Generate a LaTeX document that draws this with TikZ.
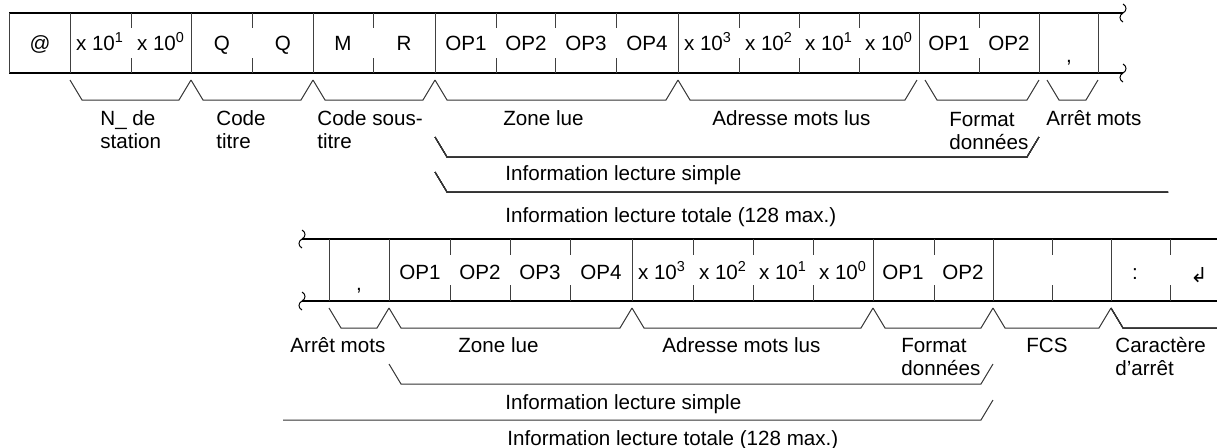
\documentclass[tikz,border=0pt]{standalone}
\usepackage{fontspec}
\setmainfont{Liberation Sans}
\newfontfamily\arrowfont{DejaVu Sans}
\usetikzlibrary{positioning}
\tikzset{
    rowline/.style={line width=0.6pt, draw=black},
    divider/.style={line width=0.5pt, draw=black!75},
    bracket/.style={line width=0.5pt, draw=black!80},
    celltxt/.style={anchor=base, inner sep=0pt, font=\fontsize{10.3}{12}\selectfont},
    lbl/.style={anchor=base west, inner sep=0pt, align=left,
                font=\fontsize{10.3}{11.5}\selectfont},
    brk/.pic={\draw[line width=0.5pt] (0,-9) .. controls (4,-7) and (4,-2) .. (0,0)
              .. controls (-4,2) and (-4,7) .. (0,9);},
}
% bracket under a group of cells: left x, right x, top y
\newcommand{\lowbrace}[3]{%
    \draw[bracket] (#1,#3) -- ({#1+12},{#3+20}) -- ({#2-12},{#3+20}) -- (#2,#3);}

\begin{document}
\begin{tikzpicture}[x=0.5pt, y=-0.5pt]
    \useasboundingbox (0,0) rectangle (1217,447);

    % first frame
    \draw[rowline] (9,13) -- (1123,13);
    \draw[rowline] (9,73) -- (1123,73);
    \pic at (1123,13) {brk};
    \pic at (1123,73) {brk};
    \foreach \x in {9, 70, 191, 313, 435, 678, 919, 1039, 1098}
        \draw[divider] (\x,13) -- (\x,73);
    \foreach \x in {131, 252, 373, 496, 555, 616, 739, 799, 859, 979} {
        \draw[divider] (\x,13) -- (\x,28);
        \draw[divider] (\x,58) -- (\x,73);
    }
    \foreach \x/\t [count=\i] in {40/@, 100/x 10\textsuperscript{1}, 161/x 10\textsuperscript{0},
            222/Q, 283/Q, 343/M, 404/R, 466/OP1, 526/OP2, 586/OP3, 647/OP4,
            708/x 10\textsuperscript{3}, 769/x 10\textsuperscript{2},
            829/x 10\textsuperscript{1}, 889/x 10\textsuperscript{0}, 949/OP1, 1009/OP2}
        \node[celltxt] (a\i) at (\x,50) {\t};
    \node[celltxt] (acomma) at (1069,62) {,};

    \foreach \a/\b in {70/191, 191/313, 313/435, 435/678, 678/917, 925/1039, 1047/1098}
        \lowbrace{\a}{\b}{80}
    \lowbrace{435}{1039}{137}
    \draw[bracket] (435,172) -- (447,192) -- (1168,192);

    % two-line labels sit on the baseline of their last line
    \node[lbl] (astation) at (100,148) {N\_ de\\station};
    \node[lbl] (acode) at (216,148) {Code\\titre};
    \node[lbl] (asous) at (317,148) {Code sous-\\titre};
    \node[lbl] (azone) at (503,125) {Zone lue};
    \node[lbl] (aadr) at (712,125) {Adresse mots lus};
    \node[lbl] (aformat) at (949,149) {Format\\données};
    \node[lbl] (aarret) at (1046,125) {Arrêt mots};
    \node[lbl] (asimple) at (505,180) {Information lecture simple};
    \node[lbl] (atotal) at (505,222) {Information lecture totale (128 max.)};

    % second frame
    \draw[rowline] (302,239) -- (1217,239);
    \draw[rowline] (302,301) -- (1217,301);
    \pic at (302,239) {brk};
    \pic at (302,301) {brk};
    \foreach \x in {329, 389, 632, 873, 993, 1111}
        \draw[divider] (\x,239) -- (\x,301);
    \foreach \x in {450, 510, 570, 693, 753, 813, 934, 1052, 1170} {
        \draw[divider] (\x,239) -- (\x,255);
        \draw[divider] (\x,285) -- (\x,301);
    }
    \node[celltxt] (bcomma) at (359,290) {,};
    \foreach \x/\t [count=\i] in {420/OP1, 480/OP2, 540/OP3, 601/OP4,
            662/x 10\textsuperscript{3}, 723/x 10\textsuperscript{2},
            783/x 10\textsuperscript{1}, 843/x 10\textsuperscript{0}, 903/OP1, 963/OP2}
        \node[celltxt] (b\i) at (\x,279) {\t};
    \node[celltxt] (bcolon) at (1135,279) {:};
    \node[celltxt] (bret) at (1199,282) {\arrowfont ↲};

    \foreach \a/\b in {329/389, 389/632, 632/873, 873/993, 993/1111}
        \lowbrace{\a}{\b}{308}
    \draw[bracket] (1111,308) -- (1123,328) -- (1217,328);
    \lowbrace{389}{993}{364}
    \draw[bracket] (283,420) -- (981,420) -- (993,400);

    \node[lbl] (barret) at (290,352) {Arrêt mots};
    \node[lbl] (bzone) at (458,352) {Zone lue};
    \node[lbl] (badr) at (662,352) {Adresse mots lus};
    \node[lbl] (bformat) at (901,375) {Format\\données};
    \node[lbl] (bfcs) at (1026,352) {FCS};
    \node[lbl] (bcar) at (1115,375) {Caractère\\d'arrêt};
    \node[lbl] (bsimple) at (505,409) {Information lecture simple};
    \node[lbl] (btotal) at (507,445) {Information lecture totale (128 max.)};
\end{tikzpicture}
\end{document}
